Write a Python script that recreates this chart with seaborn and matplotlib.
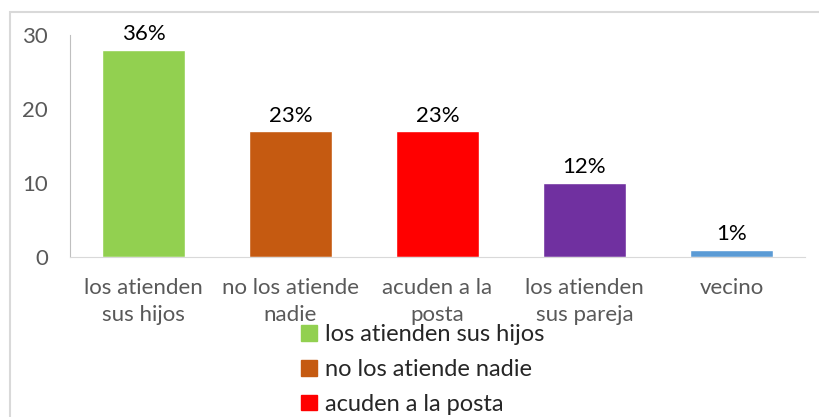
import matplotlib
matplotlib.use('Agg')
import matplotlib.pyplot as plt
import matplotlib.patches as mpatches
import seaborn as sns
import pandas as pd

categorias = ['los atienden sus hijos', 'no los atiende nadie', 'acuden a la posta',
              'los atienden sus pareja', 'vecino']
etiquetas_eje = ['los atienden\nsus hijos', 'no los atiende\nnadie', 'acuden a la\nposta',
                 'los atienden\nsus pareja', 'vecino']
valores = [28, 17, 17, 10, 1]
porcentajes = ['36%', '23%', '23%', '12%', '1%']
colores = ['#92D050', '#C55A11', '#FF0000', '#7030A0', '#5B9BD5']
# la leyenda del original queda cortada: solo se ven las tres primeras entradas
n_leyenda = 3

df = pd.DataFrame({'categoria': categorias, 'valor': valores})

sns.set_style('white')
plt.rcParams['font.family'] = ['Lato', 'DejaVu Sans']

fig = plt.figure(figsize=(8.2, 4.17), dpi=100)
ax = fig.add_axes([70 / 820, 1 - 257 / 417, 735 / 820, 222 / 417])

sns.barplot(data=df, x='categoria', y='valor', hue='categoria', palette=colores,
            width=0.57, legend=False, ax=ax, saturation=1)

for i, (v, p) in enumerate(zip(valores, porcentajes)):
    ax.annotate(p, (i, v), xytext=(0, 4), textcoords='offset points',
                ha='center', va='bottom', fontsize=16, color='black')

ax.set_ylim(0, 30)
ax.set_yticks([0, 10, 20, 30])
ax.set_xticks(range(len(etiquetas_eje)))
ax.set_xticklabels(etiquetas_eje, fontsize=16, color='#595959', linespacing=1.45)
ax.tick_params(axis='y', labelsize=16, labelcolor='#595959', pad=16, length=0)
ax.tick_params(axis='x', length=0, pad=15)
ax.set_xlabel('')
ax.set_ylabel('')

for s in ['top', 'right']:
    ax.spines[s].set_visible(False)
ax.spines['left'].set_color('#BFBFBF')
ax.spines['bottom'].set_color('#D9D9D9')

handles = [mpatches.Patch(color=c, label=l)
           for c, l in zip(colores[:n_leyenda], categorias[:n_leyenda])]
fig.legend(handles=handles, loc='upper left', bbox_to_anchor=(292 / 820, 1 - 315 / 417),
           frameon=False, fontsize=17, handlelength=0.64, handleheight=0.64,
           handletextpad=0.35, labelspacing=0.58, borderaxespad=0)

marco = mpatches.Rectangle((10 / 820, -0.1), 1.0, 1 - 12 / 417 + 0.1,
                           transform=fig.transFigure, fill=False,
                           edgecolor='#D9D9D9', linewidth=1.5)
fig.patches.append(marco)

fig.savefig('out.png', dpi=100)
